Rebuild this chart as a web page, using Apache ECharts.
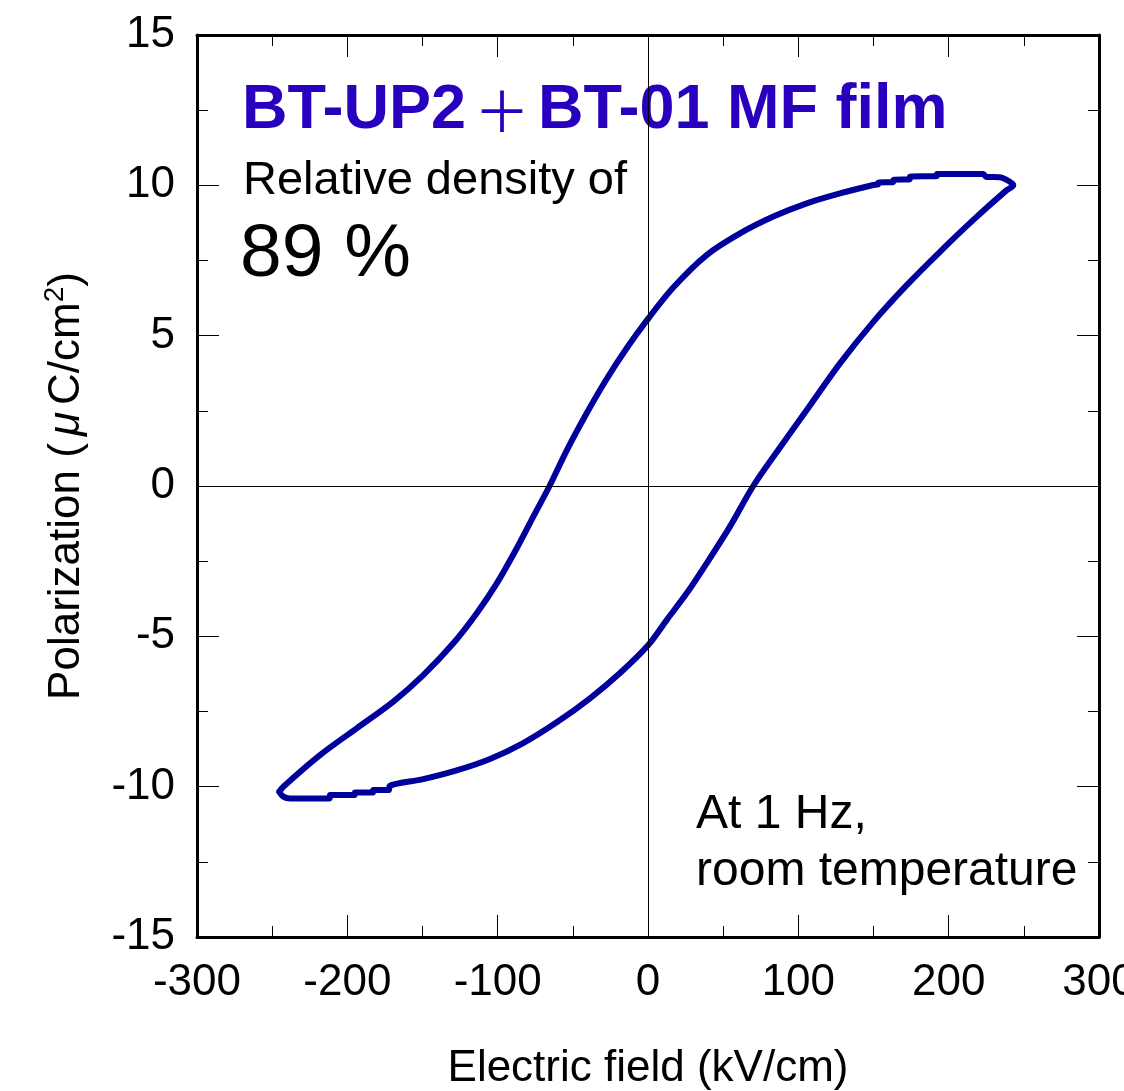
<!DOCTYPE html>
<html>
<head>
<meta charset="utf-8">
<script src="https://cdn.jsdelivr.net/npm/echarts@6/dist/echarts.min.js"></script>
<style>
  html, body { margin: 0; padding: 0; background: #fff; }
  #chart { width: 1124px; height: 1091px; }
</style>
</head>
<body>
<div id="chart"></div>
<script>
// upper branch: from negative tip up to positive tip
var upperE = [-245.3, -242.6, -218.2, -193.8, -169.4, -149.5, -129.5, -113.9, -100.6, -87.3, -76.3, -65.5,
              -54.1, -40.8, -27.5, -14.2, -0.9, 16.8, 39, 61.2, 83.4, 105.6, 127.7, 149.9,
              153, 153.2, 163, 163.3, 174, 174.3, 192, 192.3, 223, 225, 234, 238.6, 242.5];
var upperP = [-10.17, -10.0, -8.95, -8.06, -7.17, -6.29, -5.23, -4.23, -3.24, -2.07, -1.02, 0,
              1.18, 2.42, 3.56, 4.58, 5.5, 6.6, 7.68, 8.40, 8.96, 9.40, 9.73, 10.01,
              10.03, 10.09, 10.11, 10.18, 10.2, 10.29, 10.31, 10.38, 10.38, 10.28, 10.27, 10.18, 10.05];
// lower branch: from positive tip back to negative tip
var lowerE = [243, 238.6, 216.4, 194.2, 172.1, 149.9, 127.7, 105.6, 87.8, 70,
              54.5, 39, 25.7, 12.4, 0.2, -18.6, -38.6, -60.7, -83, -105.1, -127.3, -149.5,
              -172, -172.3, -182.7, -183, -194.9, -195.2, -211.5, -211.8, -238.1, -242.6, -245.3];
var lowerP = [10.0, 9.84, 8.85, 7.79, 6.68, 5.46, 4.08, 2.53, 1.28, 0,
              -1.35, -2.57, -3.57, -4.46, -5.29, -6.22, -7.06, -7.86, -8.55, -9.08, -9.46, -9.75,
              -9.98, -10.11, -10.11, -10.19, -10.19, -10.28, -10.28, -10.39, -10.39, -10.33, -10.17];

var xTicks = { min: -300, max: 300, interval: 100 };
var yTicks = { min: -15, max: 15, interval: 5 };

var loop = [];
upperE.forEach(function (e, i) { loop.push([e, upperP[i]]); });
lowerE.forEach(function (e, i) { loop.push([e, lowerP[i]]); });

var font = "'Liberation Sans', Arial, sans-serif";
var myChart = echarts.init(document.getElementById('chart'));

function frameAxis(pos, t, isX, showLabel) {
    return {
        type: 'value',
        position: pos,
        min: t.min,
        max: t.max,
        interval: t.interval,
        axisLine: { show: true, onZero: false, lineStyle: { color: '#000', width: 3 } },
        axisTick: { show: true, inside: true, length: 22, lineStyle: { color: '#000', width: 1 } },
        minorTick: { show: true, splitNumber: 2, length: 11, lineStyle: { color: '#000', width: 1 } },
        splitLine: { show: false },
        axisLabel: {
            show: showLabel,
            margin: isX ? 24 : 22,
            fontFamily: font,
            fontSize: 44,
            color: '#000'
        }
    };
}

var xMain = frameAxis('bottom', xTicks, true, true);
xMain.name = 'Electric field (kV/cm)';
xMain.nameLocation = 'middle';
xMain.nameGap = 110;
xMain.nameTextStyle = { fontFamily: font, fontSize: 44, color: '#000' };

var yMain = frameAxis('left', yTicks, false, true);
yMain.name = '{t|Polarization (}{m|μ}{t|C/cm}{s|2}{t|)}';
yMain.nameLocation = 'middle';
yMain.nameGap = 104;
yMain.nameTextStyle = {
    rich: {
        t: { fontFamily: font, fontSize: 44, color: '#000', lineHeight: 52 },
        m: { fontFamily: font, fontSize: 44, fontStyle: 'italic', color: '#000', lineHeight: 52, padding: [0, 7, 0, 7] },
        s: { fontFamily: font, fontSize: 28, color: '#000', lineHeight: 52, verticalAlign: 'top', padding: [0, 0, 14, 0] }
    }
};

var option = {
    animation: false,
    backgroundColor: '#fff',
    grid: { left: 197, right: 25, top: 35, bottom: 154, containLabel: false, outerBoundsMode: 'none' },
    xAxis: [xMain, frameAxis('top', xTicks, true, false)],
    yAxis: [yMain, frameAxis('right', yTicks, false, false)],
    graphic: [
        {
            type: 'text', left: 242, top: 79,
            style: {
                text: '{b|BT-UP2}{p|＋}{b|BT-01 MF film}',
                rich: {
                    b: { fontFamily: font, fontWeight: 'bold', fontSize: 63, fill: '#2800BE' },
                    p: { fontFamily: "'Noto Sans CJK JP', sans-serif", fontWeight: 'normal', fontSize: 56, fill: '#2800BE', padding: [0, 8, 0, 8] }
                }
            }
        },
        {
            type: 'text', left: 243, top: 158,
            style: { text: 'Relative density of', fontFamily: font, fontSize: 47, fill: '#000' }
        },
        {
            type: 'text', left: 240, top: 218,
            style: { text: '89 %', fontFamily: font, fontSize: 75, fill: '#000' }
        },
        {
            type: 'text', left: 696, top: 786,
            style: { text: 'At 1 Hz,\nroom temperature', fontFamily: font, fontSize: 48, lineHeight: 57, fill: '#000' }
        }
    ],
    series: [
        {
            type: 'line',
            data: loop,
            showSymbol: false,
            symbol: 'none',
            smooth: 0.3,
            lineStyle: { color: '#00009C', width: 6, join: 'round', cap: 'round' },
            markLine: {
                silent: true,
                symbol: 'none',
                label: { show: false },
                lineStyle: { color: '#000', width: 1, type: 'solid' },
                data: [{ xAxis: 0 }, { yAxis: 0 }]
            },
            z: 3
        }
    ]
};

myChart.setOption(option);
</script>
</body>
</html>
